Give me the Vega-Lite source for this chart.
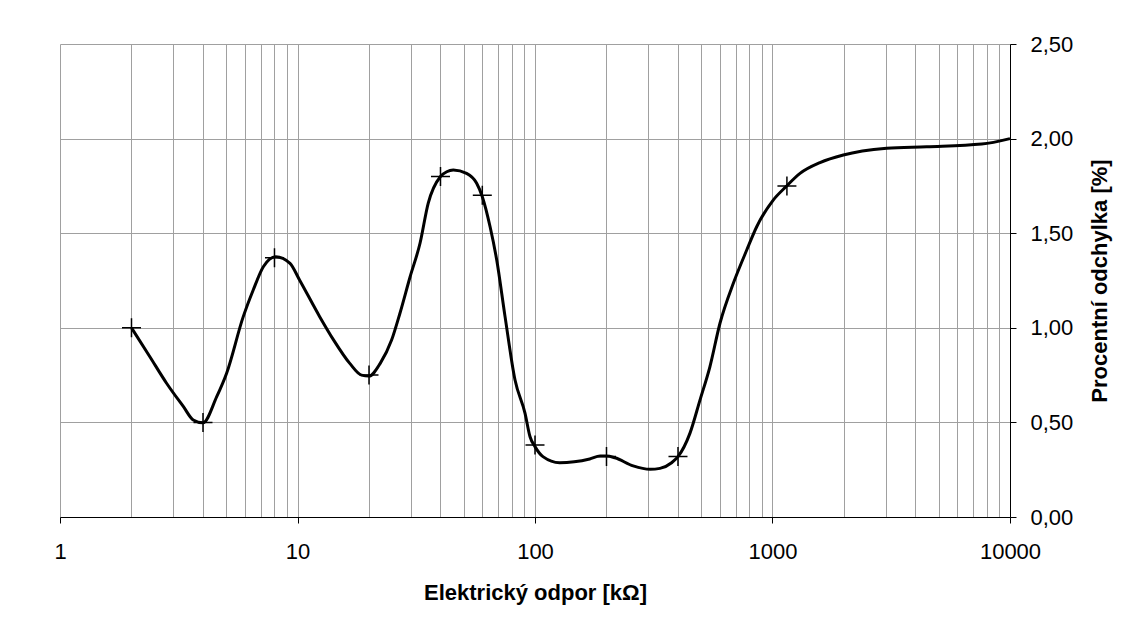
{
  "$schema": "https://vega.github.io/schema/vega-lite/v6.json",
  "width": 950,
  "height": 473,
  "autosize": {"type": "none"},
  "padding": {"left": 60, "top": 44, "right": 118, "bottom": 104},
  "background": "white",
  "config": {
    "view": {"stroke": null},
    "font": "Liberation Sans",
    "axis": {
      "gridColor": "#a0a0a0",
      "gridWidth": 1,
      "gridOpacity": 1,
      "domainColor": "black",
      "domainWidth": 1,
      "tickColor": "black",
      "tickWidth": 1,
      "tickSize": 6,
      "labelFont": "Liberation Sans",
      "labelFontSize": 22,
      "labelColor": "black",
      "titleFont": "Liberation Sans",
      "titleFontSize": 22,
      "titleFontWeight": "bold",
      "titleColor": "black",
      "labelOverlap": false,
      "labelFlush": false,
      "labelBound": false
    }
  },
  "datasets": {
    "curve": [
      {"r": 2, "p": 1.0},
      {"r": 2.39, "p": 0.847},
      {"r": 2.81, "p": 0.707},
      {"r": 3.31, "p": 0.583},
      {"r": 3.64, "p": 0.513},
      {"r": 4, "p": 0.498},
      {"r": 4.57, "p": 0.636},
      {"r": 5.03, "p": 0.76},
      {"r": 5.91, "p": 1.059},
      {"r": 6.51, "p": 1.2},
      {"r": 7.18, "p": 1.323},
      {"r": 8.1, "p": 1.376},
      {"r": 9.3, "p": 1.341},
      {"r": 10.2, "p": 1.253},
      {"r": 12.4, "p": 1.059},
      {"r": 14.2, "p": 0.935},
      {"r": 16.6, "p": 0.812},
      {"r": 18.6, "p": 0.75},
      {"r": 20, "p": 0.745},
      {"r": 22.3, "p": 0.812},
      {"r": 24.9, "p": 0.935},
      {"r": 27, "p": 1.077},
      {"r": 29.8, "p": 1.27},
      {"r": 32.8, "p": 1.447},
      {"r": 35.5, "p": 1.658},
      {"r": 40, "p": 1.8},
      {"r": 42.5, "p": 1.825},
      {"r": 45.3, "p": 1.834},
      {"r": 51.5, "p": 1.816},
      {"r": 56.8, "p": 1.764},
      {"r": 60, "p": 1.693},
      {"r": 64.7, "p": 1.534},
      {"r": 69, "p": 1.358},
      {"r": 74.8, "p": 1.059},
      {"r": 82.4, "p": 0.724},
      {"r": 90.8, "p": 0.548},
      {"r": 95.3, "p": 0.424},
      {"r": 100, "p": 0.372},
      {"r": 108, "p": 0.319},
      {"r": 127, "p": 0.287},
      {"r": 170, "p": 0.307},
      {"r": 188, "p": 0.322},
      {"r": 200, "p": 0.322},
      {"r": 217, "p": 0.313},
      {"r": 259, "p": 0.27},
      {"r": 305, "p": 0.252},
      {"r": 336, "p": 0.257},
      {"r": 376, "p": 0.287},
      {"r": 400, "p": 0.319},
      {"r": 449, "p": 0.442},
      {"r": 495, "p": 0.618},
      {"r": 545, "p": 0.794},
      {"r": 601, "p": 1.024},
      {"r": 684, "p": 1.235},
      {"r": 779, "p": 1.411},
      {"r": 858, "p": 1.534},
      {"r": 1007, "p": 1.675},
      {"r": 1140, "p": 1.746},
      {"r": 1306, "p": 1.816},
      {"r": 1585, "p": 1.873},
      {"r": 1987, "p": 1.913},
      {"r": 2389, "p": 1.934},
      {"r": 3025, "p": 1.949},
      {"r": 4457, "p": 1.957},
      {"r": 7600, "p": 1.971},
      {"r": 10000, "p": 2.0}
    ],
    "markers": [
      {"r": 2, "p": 1.0},
      {"r": 4, "p": 0.5},
      {"r": 8, "p": 1.37},
      {"r": 20, "p": 0.75},
      {"r": 40, "p": 1.8},
      {"r": 60, "p": 1.7},
      {"r": 100, "p": 0.38},
      {"r": 200, "p": 0.32},
      {"r": 400, "p": 0.32},
      {"r": 1150, "p": 1.75}
    ]
  },
  "layer": [
    {
      "data": {"name": "curve"},
      "mark": {"type": "line", "interpolate": "monotone", "color": "black", "strokeWidth": 3},
      "encoding": {
        "x": {
          "field": "r",
          "type": "quantitative",
          "scale": {"type": "log", "domain": [1, 10000], "nice": false},
          "axis": {
            "values": [1, 2, 3, 4, 5, 6, 7, 8, 9, 10, 20, 30, 40, 50, 60, 70, 80, 90, 100, 200, 300, 400, 500, 600, 700, 800, 900, 1000, 2000, 3000, 4000, 5000, 6000, 7000, 8000, 9000, 10000],
            "grid": true,
            "labelExpr": "indexof([1,10,100,1000,10000], datum.value) >= 0 ? format(datum.value, 'd') : ''",
            "tickOpacity": {"condition": {"test": "indexof([1,10,100,1000,10000], datum.value) >= 0", "value": 1}, "value": 0},
            "labelPadding": 18,
            "title": "Elektrický odpor [kΩ]",
            "titlePadding": 20
          }
        },
        "y": {
          "field": "p",
          "type": "quantitative",
          "scale": {"domain": [0, 2.5], "nice": false},
          "axis": {
            "orient": "right",
            "values": [0, 0.5, 1, 1.5, 2, 2.5],
            "grid": true,
            "labelExpr": "replace(format(datum.value, '.2f'), '.', ',')",
            "labelPadding": 14,
            "labelBaseline": "middle",
            "title": "Procentní odchylka [%]",
            "titleAngle": 270,
            "titleBaseline": "top",
            "titlePadding": 17
          }
        }
      }
    },
    {
      "data": {"name": "markers"},
      "mark": {"type": "point", "shape": "M-1,0H1M0,-1V1", "size": 361, "filled": false, "stroke": "black", "strokeWidth": 1.5, "opacity": 1},
      "encoding": {
        "x": {"field": "r", "type": "quantitative"},
        "y": {"field": "p", "type": "quantitative"}
      }
    }
  ]
}
